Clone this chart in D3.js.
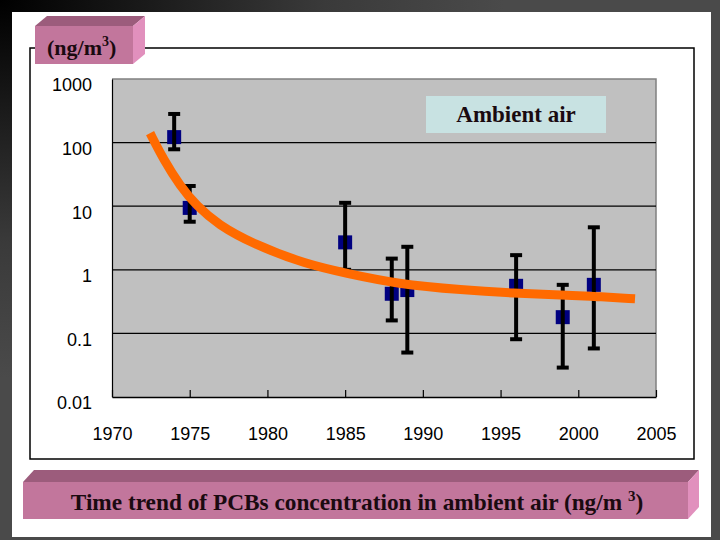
<!DOCTYPE html>
<html lang="en">
    <head>
        <meta charset="utf-8">
        <title>PCBs in ambient air</title>
        <script src="https://d3js.org/d3.v7.min.js"></script>
        <style type="text/css">
            body{
                margin: 0;
                background: #4a4a4a;
            }
            svg{
                width: 720px;
                height: 540px;
                display: block;
            }
            .tick text{
                font-family: "Liberation Sans", Arial, sans-serif;
                font-size: 18px;
                fill: #000;
            }
            .serif{
                font-family: "Liberation Serif", "Times New Roman", serif;
                font-weight: bold;
                fill: #1a0a10;
            }
        </style>
    </head>
    <body>
        <svg></svg>
        <script type="text/javascript">

        //DATA
        const years  = [1974, 1975, 1985, 1988, 1989, 1996, 1999, 2001];
        const means  = [122, 9.4, 2.7, 0.42, 0.48, 0.56, 0.18, 0.58];
        const upper  = [282, 20.8, 11.3, 1.5, 2.3, 1.7, 0.58, 4.66];
        const lower  = [78.5, 5.7, 1.0, 0.16, 0.05, 0.081, 0.029, 0.058];

        //fitted trend curve
        const trendYears  = [1972.45, 1973.3, 1974.38, 1975.45, 1976.82, 1979.07, 1982.53, 1985.1, 1988.32, 1992.59, 1995.8, 1999.02, 2001.2, 2003.65];
        const trendValues = [141, 55.2, 20.8, 10.1, 5.15, 2.55, 1.21, 0.88, 0.60, 0.48, 0.43, 0.40, 0.38, 0.35];

        const yTicks = [0.01, 0.1, 1, 10, 100, 1000];
        const yTickLabels = ["0.01", "0.1", "1", "10", "100", "1000"];
        const xTicks = [1970, 1975, 1980, 1985, 1990, 1995, 2000, 2005];

        const points = years.map((yr, i) => ({year: yr, val: means[i], hi: upper[i], lo: lower[i]}));
        const trend = trendYears.map((yr, i) => ({year: yr, val: trendValues[i]}));

        //SVG
        const svg = d3.select("svg");
        const defs = svg.append("defs");

        const bg = defs.append("radialGradient")
            .attr("id", "bg")
            .attr("cx", 0).attr("cy", 0).attr("r", 1)
            .attr("gradientUnits", "objectBoundingBox");
        bg.append("stop").attr("offset", "0%").attr("stop-color", "#000");
        bg.append("stop").attr("offset", "45%").attr("stop-color", "#3a3a3a");
        bg.append("stop").attr("offset", "70%").attr("stop-color", "#4a4a4a");

        svg.append("rect").attr("width", 720).attr("height", 540).attr("fill", "url(#bg)");

        //slide
        svg.append("rect")
            .attr("x", 12).attr("y", 12)
            .attr("width", 699).attr("height", 525)
            .attr("fill", "#fff");

        //chart box
        svg.append("rect")
            .attr("x", 30).attr("y", 48)
            .attr("width", 664).attr("height", 411)
            .attr("fill", "#fff")
            .attr("stroke", "#000")
            .attr("stroke-width", 1.5);

        //SCALES
        const x = d3.scaleLinear().domain([1970, 2005]).range([112, 656]);
        const y = d3.scaleLog().domain([0.01, 1000]).range([397, 79]);

        //plot area
        svg.append("rect")
            .attr("x", x(1970)).attr("y", y(1000))
            .attr("width", x(2005) - x(1970))
            .attr("height", y(0.01) - y(1000))
            .attr("fill", "#c0c0c0");

        //top + right border grey
        svg.append("path")
            .attr("d", `M${x(1970)},${y(1000)}H${x(2005)}V${y(0.01)}`)
            .attr("fill", "none")
            .attr("stroke", "#808080")
            .attr("stroke-width", 1.5);

        //gridlines
        svg.append("g")
            .selectAll("line")
            .data(yTicks.filter(d => d > 0.01 && d < 1000))
            .join("line")
            .attr("x1", x(1970)).attr("x2", x(2005))
            .attr("y1", d => y(d)).attr("y2", d => y(d))
            .attr("stroke", "#000")
            .attr("stroke-width", 1.2);

        //AXES
        const yAxis = d3.axisLeft(y)
            .tickValues(yTicks)
            .tickFormat((d, i) => yTickLabels[i])
            .tickSize(0)
            .tickPadding(20);

        svg.append("g")
            .attr("transform", `translate(${x(1970)},0)`)
            .call(yAxis)
            .call(g => g.select(".domain").attr("stroke", "#000").attr("stroke-width", 1.2))
            .call(g => g.selectAll("text").attr("dy", "0.66em"));

        const xAxis = d3.axisBottom(x)
            .tickValues(xTicks)
            .tickFormat(d3.format("d"))
            .tickSizeInner(-7)
            .tickSizeOuter(0)
            .tickPadding(37);

        svg.append("g")
            .attr("transform", `translate(0,${y(0.01)})`)
            .call(xAxis)
            .call(g => g.select(".domain").attr("stroke", "#000").attr("stroke-width", 1.5))
            .call(g => g.selectAll(".tick line").attr("stroke", "#000").attr("stroke-width", 1.2))
            .call(g => g.selectAll(".tick text").attr("dy", "0.32em"));

        //MARKERS
        svg.append("g")
            .selectAll("rect")
            .data(points)
            .join("rect")
            .attr("x", d => x(d.year) - 7)
            .attr("y", d => y(d.val) - 7)
            .attr("width", 14).attr("height", 14)
            .attr("fill", "#000080");

        //ERROR BARS
        const bars = svg.append("g")
            .attr("stroke", "#000")
            .attr("stroke-width", 4);

        bars.selectAll("line.bar")
            .data(points)
            .join("line")
            .attr("class", "bar")
            .attr("x1", d => x(d.year)).attr("x2", d => x(d.year))
            .attr("y1", d => y(d.hi)).attr("y2", d => y(d.lo));

        bars.selectAll("line.cap")
            .data(points.flatMap(d => [{year: d.year, v: d.hi}, {year: d.year, v: d.lo}]))
            .join("line")
            .attr("class", "cap")
            .attr("x1", d => x(d.year) - 6).attr("x2", d => x(d.year) + 6)
            .attr("y1", d => y(d.v)).attr("y2", d => y(d.v));

        //TREND
        const line = d3.line()
            .x(d => x(d.year))
            .y(d => y(d.val))
            .curve(d3.curveBasis);

        svg.append("path")
            .datum(trend)
            .attr("d", line)
            .attr("fill", "none")
            .attr("stroke", "#ff6a00")
            .attr("stroke-width", 9);

        //Ambient air label
        svg.append("rect")
            .attr("x", 426).attr("y", 96)
            .attr("width", 180).attr("height", 37)
            .attr("fill", "#c8e2e2");
        svg.append("text")
            .attr("class", "serif")
            .attr("x", 516).attr("y", 122)
            .attr("text-anchor", "middle")
            .attr("font-size", 23)
            .text("Ambient air");

        //3D BOXES
        function box(bx, by, bw, bh, dx, dy, cols){
            const g = svg.append("g");
            g.append("polygon")
                .attr("points", [[bx, by], [bx + dx, by - dy], [bx + bw + dx, by - dy], [bx + bw, by]].join(" "))
                .attr("fill", cols[0]);
            g.append("polygon")
                .attr("points", [[bx + bw, by], [bx + bw + dx, by - dy], [bx + bw + dx, by + bh - dy], [bx + bw, by + bh]].join(" "))
                .attr("fill", cols[2]);
            g.append("rect")
                .attr("x", bx).attr("y", by)
                .attr("width", bw).attr("height", bh)
                .attr("fill", cols[1]);
            return g;
        }

        const pink = ["#9c5c7c", "#c2769c", "#e190bd"];

        //unit box
        box(35, 26, 98, 38, 12, 10, pink);
        const unit = svg.append("text")
            .attr("class", "serif")
            .attr("x", 47).attr("y", 55)
            .attr("font-size", 22);
        unit.append("tspan").text("(ng/m");
        unit.append("tspan").attr("font-size", 14).attr("dy", -9).text("3");
        unit.append("tspan").attr("dy", 9).text(")");

        //caption box
        box(23, 482, 665, 37, 11, 12, pink);
        const cap = svg.append("text")
            .attr("class", "serif")
            .attr("x", 357).attr("y", 510)
            .attr("text-anchor", "middle")
            .attr("font-size", 23.3);
        cap.append("tspan").text("Time trend of PCBs concentration in ambient air (ng/m ");
        cap.append("tspan").attr("font-size", 15).attr("dy", -9).text("3");
        cap.append("tspan").attr("dy", 9).text(")");

        </script>
    </body>
</html>
